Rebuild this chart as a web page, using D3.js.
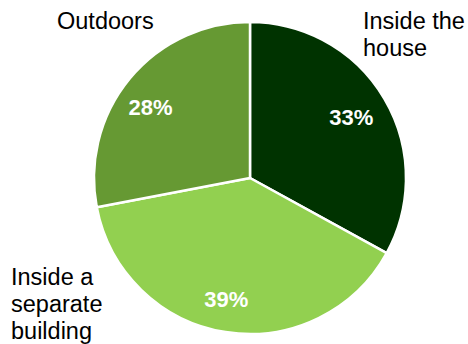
<!DOCTYPE html>
<html>
<head>
<meta charset="utf-8">
<script src="https://cdn.jsdelivr.net/npm/d3@7"></script>
<style>
  html, body { margin: 0; padding: 0; background: #fff; }
  svg { display: block; font-family: "Liberation Sans", Arial, sans-serif; }
</style>
</head>
<body>
<svg id="chart" width="468" height="344"></svg>
<script>
// Where the item is kept, share of respondents (%)
const categories = ["Inside the house", "Inside a separate building", "Outdoors"];
const values = [33, 39, 28];
const colors = ["#003300", "#92D050", "#669933"];
// Category labels, split into lines
const labelLines = [["Inside the", "house"], ["Inside a", "separate", "building"], ["Outdoors"]];

const svg = d3.select("#chart");
const cx = 250, cy = 178, radius = 156;

const pie = d3.pie().sort(null).value(d => d)(values);
const arc = d3.arc().innerRadius(0).outerRadius(radius);
const labelArc = d3.arc().innerRadius(120).outerRadius(120);
// small per-slice offsets for the value labels
const pctNudge = [[-2, 0], [-5, 3], [-7, 6]];

const g = svg.append("g").attr("transform", `translate(${cx},${cy})`);

g.selectAll("path.slice")
  .data(pie)
  .join("path")
  .attr("class", "slice")
  .attr("d", arc)
  .attr("fill", (d, i) => colors[i])
  .attr("stroke", "#fff")
  .attr("stroke-width", 2.5)
  .attr("stroke-linejoin", "round");

g.selectAll("text.pct")
  .data(pie)
  .join("text")
  .attr("class", "pct")
  .attr("transform", (d, i) => {
    const [x, y] = labelArc.centroid(d);
    return `translate(${x + pctNudge[i][0]},${y + pctNudge[i][1]})`;
  })
  .attr("text-anchor", "middle")
  .attr("dy", "0.36em")
  .attr("fill", "#fff")
  .attr("font-weight", "bold")
  .attr("font-size", 22)
  .text(d => d.value + "%");

// Category labels placed outside the pie
const labelPos = [
  { x: 363, y: 29 },
  { x: 11, y: 285 },
  { x: 57, y: 29 }
];
const lineH = 27;

categories.forEach((c, i) => {
  const t = svg.append("text")
    .attr("x", labelPos[i].x)
    .attr("y", labelPos[i].y)
    .attr("font-size", 23.5)
    .attr("fill", "#000");
  labelLines[i].forEach((line, j) => {
    t.append("tspan")
      .attr("x", labelPos[i].x)
      .attr("y", labelPos[i].y + j * lineH)
      .text(line);
  });
});
</script>
</body>
</html>
